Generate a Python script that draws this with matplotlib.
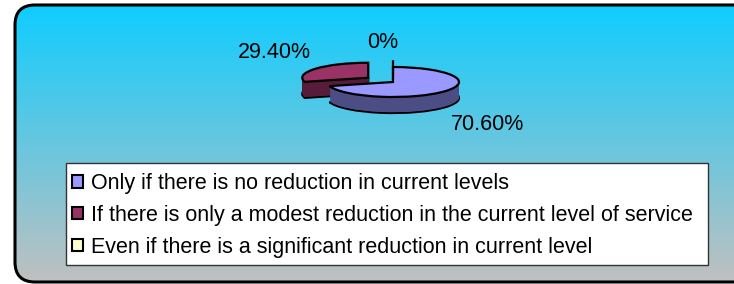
import numpy as np
import matplotlib
matplotlib.use("Agg")
from matplotlib import pyplot as plt
from matplotlib.patches import FancyBboxPatch, Patch, Rectangle
from matplotlib.colors import LinearSegmentedColormap
from matplotlib.transforms import Affine2D

# Chart data
LABELS = [
    "Only if there is no reduction in current levels",
    "If there is only a modest reduction in the current level of service",
    "Even if there is a significant reduction in current level",
]
VALUES = [70.6, 29.4, 0.0]
PCT_TEXT = ["70.60%", "29.40%", "0%"]

# Styles
TOP_COLORS = ["#9999FF", "#993366", "#FFFFCC"]
SIDE_COLORS = ["#4D4D85", "#561C3A", "#8C8C70"]
LEGEND_COLORS = ["#9999FF", "#993366", "#FFFFCC"]
EXPLODE = [0.0, 0.47, 0.45]  # fraction of the radius

# Layout, in pixels (y from top)
W, H = 734, 284
PIE_CX, PIE_CY = 393, 82
PIE_RX, PIE_RY = 66, 15
DEPTH = 16
LABEL_POS = [(488, 124), (274, 52), (383, 42)]
LEGEND_BOX = (66, 163, 708, 265)  # left, top, right, bottom
FONT_PT = 15.5

plt.rcParams["font.family"] = ["Liberation Sans", "DejaVu Sans"]


# Squash a circular pie into an ellipse and push it down by d pixels
def squash(ax, d):
    cy = H - PIE_CY
    return (Affine2D().translate(-PIE_CX, -cy)
            .scale(1, PIE_RY / PIE_RX)
            .translate(PIE_CX, cy - d) + ax.transData)


def draw_pie_layer(ax, colors, d, edge):
    wedges, _ = ax.pie(
        VALUES, colors=colors, explode=[e * PIE_RX for e in EXPLODE],
        startangle=90, counterclock=False, center=(PIE_CX, H - PIE_CY),
        radius=PIE_RX, normalize=True, frame=True,
        wedgeprops=dict(linewidth=1.6 if edge else 0,
                        edgecolor="black" if edge else "none"),
    )
    for w in wedges:
        w.set_transform(squash(ax, d))
    return wedges


def main():
    fig = plt.figure(figsize=(W / 100, H / 100), dpi=100)
    fig.patch.set_facecolor("white")

    # Background with rounded frame and gradient
    ax_bg = fig.add_axes([0, 0, 1, 1])
    ax_bg.set_xlim(0, W)
    ax_bg.set_ylim(H, 0)
    ax_bg.axis("off")
    frame = FancyBboxPatch((15, 5), 760 - 15, 282 - 5,
                           boxstyle="round,pad=0,rounding_size=20",
                           facecolor="none", edgecolor="black", linewidth=2.2,
                           zorder=3)
    ax_bg.add_patch(frame)
    cmap = LinearSegmentedColormap.from_list("bg", ["#0FCDFF", "#C0C0C0"])
    grad = np.linspace(0, 1, 256).reshape(-1, 1)
    img = ax_bg.imshow(grad, extent=(15, 760, 282, 5), aspect="auto",
                       cmap=cmap, zorder=1)
    img.set_clip_path(frame)

    # Legend frame drawn as a plain box, entries placed inside it
    l, t, r, b = LEGEND_BOX
    ax_bg.add_patch(Rectangle((l, t), r - l, b - t, facecolor="white",
                              edgecolor="#333333", linewidth=1.0, zorder=4))

    # 3D-looking pie made of stacked layers
    ax_pie = fig.add_axes([0, 0, 1, 1])
    ax_pie.set_aspect("auto")
    ax_pie.axis("off")
    layers = np.linspace(DEPTH, 0.5, 22)
    for i, d in enumerate(layers):
        draw_pie_layer(ax_pie, SIDE_COLORS, d, edge=(i == 0))
    draw_pie_layer(ax_pie, TOP_COLORS, 0, edge=True)
    ax_pie.set_xlim(0, W)
    ax_pie.set_ylim(0, H)

    for txt, (x, y) in zip(PCT_TEXT, LABEL_POS):
        ax_pie.text(x, H - y, txt, ha="center", va="center",
                    fontsize=FONT_PT, color="black")

    # Legend entries
    handles = [Patch(facecolor=c, edgecolor="black", linewidth=1.5)
               for c in LEGEND_COLORS]
    leg = ax_bg.legend(
        handles, LABELS, loc="upper left",
        bbox_to_anchor=(72 / W, 1 - 173 / H), bbox_transform=fig.transFigure,
        fontsize=FONT_PT, frameon=False,
        borderaxespad=0, borderpad=0, labelspacing=0.5,
        handlelength=0.52, handleheight=0.52, handletextpad=0.37,
    )
    leg.set_zorder(5)

    fig.savefig("out.png", dpi=100)


if __name__ == "__main__":
    main()
